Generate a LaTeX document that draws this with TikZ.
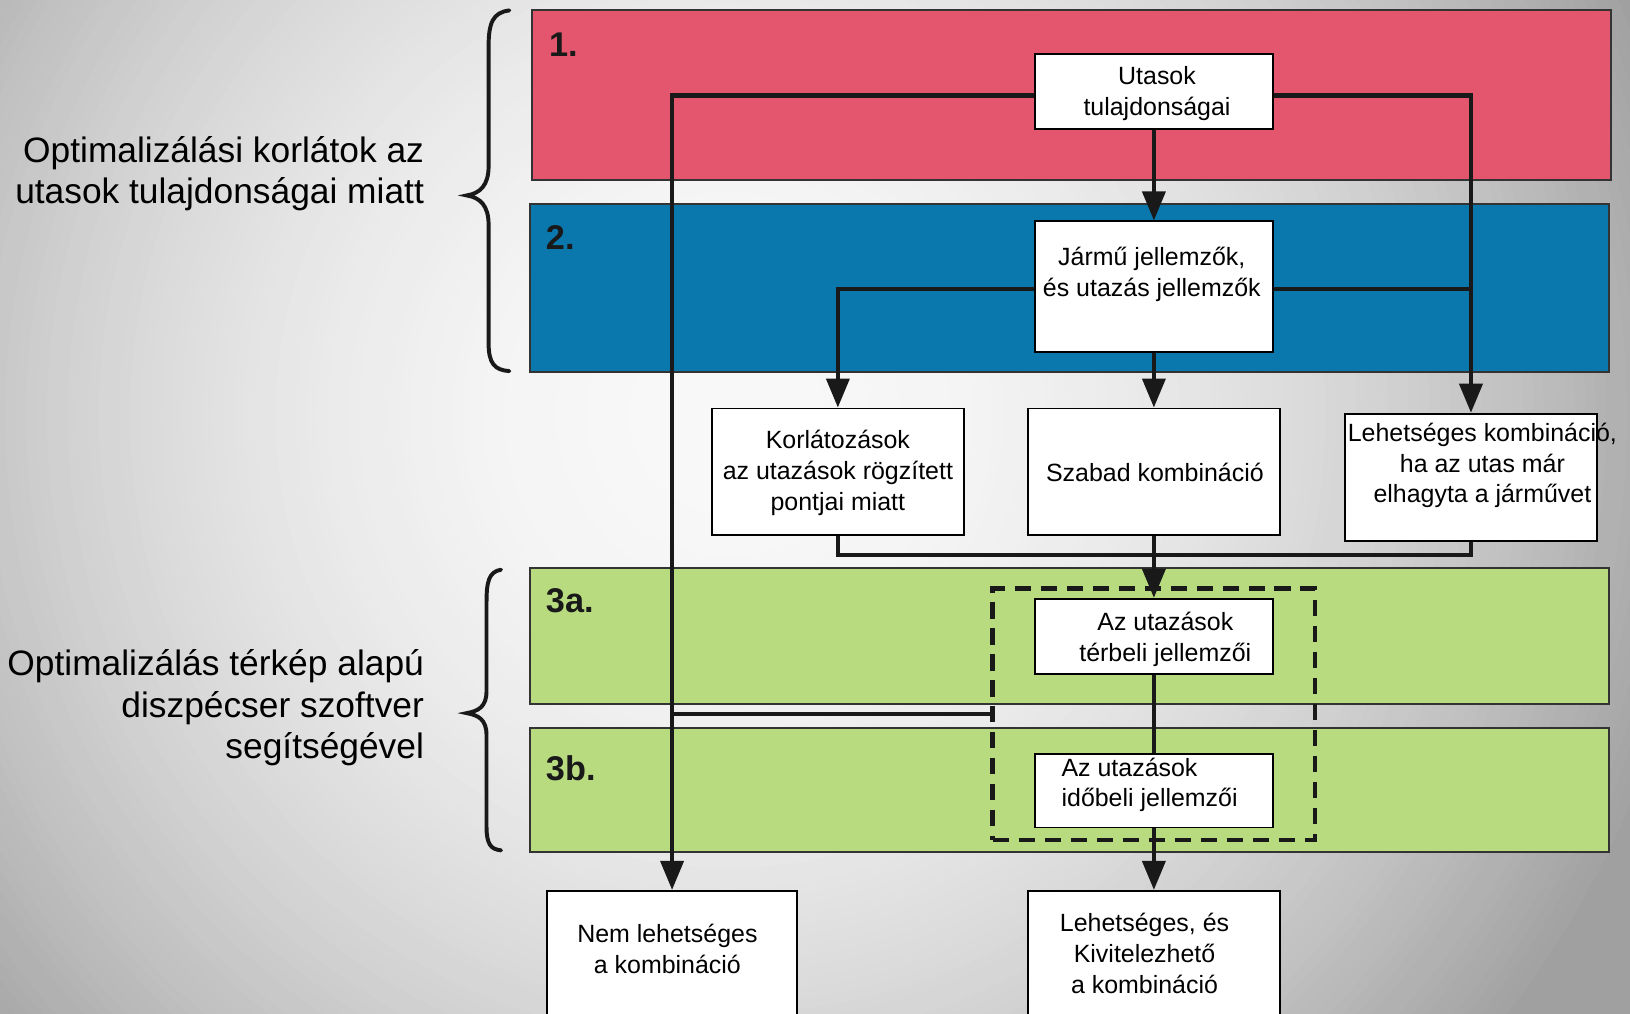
\documentclass[tikz,border=0pt]{standalone}
\usepackage{fontspec}
\setmainfont{Liberation Sans}
\usetikzlibrary{arrows.meta}
\definecolor{panelred}{HTML}{E3566D}
\definecolor{panelblue}{HTML}{0A77AD}
\definecolor{panelgreen}{HTML}{B9DB80}
\definecolor{bgin}{HTML}{F8F8F8}
\definecolor{bgout}{HTML}{A0A0A0}
\begin{document}
\begin{tikzpicture}[x=1pt,y=-1pt,
  panel/.style={draw=black!80, line width=2pt},
  box/.style={draw=black, line width=1.8pt, fill=white, inner sep=0pt},
  boxtext/.style={font=\fontsize{24}{29.5}\selectfont, align=center, inner sep=0pt},
  sidetext/.style={font=\fontsize{34}{40}\selectfont, align=right, anchor=east, inner sep=0pt},
  num/.style={font=\fontsize{33}{33}\selectfont\bfseries, anchor=base west, inner sep=0pt, text=black!90},
  conn/.style={line width=4.2pt, draw=black!90},
  arr/.style={conn, -{Triangle[length=28pt,width=22pt]}},
  group/.style={draw=black!90, line width=4.4pt, dash pattern=on 16pt off 9pt, inner sep=0pt},
  brace/.style={line width=3.8pt, line cap=round, draw=black!90}
]
\useasboundingbox (0,0) rectangle (1568,975);

\begin{scope}
  \clip (0,0) rectangle (1568,975);
  % grey backdrop: concentric rings, light in the middle, darker outwards
  \foreach \r in {1250,1240,...,0} {
    \pgfmathtruncatemacro\p{min(100,100*(\r/950)^2)}
    \fill[bgout!\p!bgin] (700,400) circle (\r+5);
  }

  % braces
  \draw[brace] (490,10) .. controls (474,12) and (470,22) .. (470,45) -- (470,160)
    .. controls (470,178) and (462,186) .. (449,188)
    .. controls (462,190) and (470,198) .. (470,216) -- (470,330)
    .. controls (470,350) and (476,356) .. (490,357);
  \draw[brace] (482,548) .. controls (470,550) and (468,560) .. (468,580) -- (468,665)
    .. controls (468,680) and (460,684) .. (449,686)
    .. controls (460,688) and (468,692) .. (468,707) -- (468,795)
    .. controls (468,812) and (472,817) .. (482,818);

  % side labels
  \node[sidetext] (lab1) at (408,167) {Optimalizálási korlátok az\\utasok tulajdonságai miatt};
  \node[sidetext] (lab2) at (408,681) {Optimalizálás térkép alapú\\diszpécser szoftver\\segítségével};

  % stage panels
  \draw[panel, fill=panelred] (512,10) rectangle (1550,173);
  \draw[panel, fill=panelblue] (510,196) rectangle (1548,358);
  \draw[panel, fill=panelgreen] (510,546) rectangle (1548,677);
  \draw[panel, fill=panelgreen] (510,700) rectangle (1548,820);
  \node[num] (n1) at (528,54) {1.};
  \node[num] (n2) at (525,240) {2.};
  \node[num] (n3a) at (525,589) {3a.};
  \node[num] (n3b) at (525,751) {3b.};

  % boxes
  \node[box, minimum width=229pt, minimum height=72pt] (ut) at (1110,88) {};
  \node[box, minimum width=229pt, minimum height=126pt] (jar) at (1110,276) {};
  \node[box, minimum width=242pt, minimum height=122pt] (kor) at (806,454) {};
  \node[box, minimum width=242pt, minimum height=122pt] (sz) at (1110,454) {};
  \node[box, minimum width=242pt, minimum height=122pt] (leh) at (1415,459) {};
  \node[group, minimum width=310pt, minimum height=242pt] (grp) at (1110,687) {};
  \node[box, minimum width=229pt, minimum height=72pt] (ter) at (1110,612) {};
  \node[box, minimum width=229pt, minimum height=71pt] (ido) at (1110,760.5) {};
  \node[box, minimum width=241pt, minimum height=143pt] (nem) at (646.5,928.5) {};
  \node[box, minimum width=242pt, minimum height=143pt] (kiv) at (1110,928.5) {};

  % box texts
  \node[boxtext] (t-ut) at (1113,90) {Utasok\\tulajdonságai};
  \node[boxtext] (t-jar) at (1108,264) {Jármű jellemzők,\\és utazás jellemzők};
  \node[boxtext] (t-kor) at (806,455) {Korlátozások\\az utazások rögzített\\pontjai miatt};
  \node[boxtext] (t-sz) at (1111,454) {Szabad kombináció};
  \node[boxtext] (t-leh) at (1426,448) {Lehetséges kombináció,\\ha az utas már\\elhagyta a járművet};
  \node[boxtext] (t-ter) at (1121,615) {Az utazások\\térbeli jellemzői};
  \node[boxtext, align=left, anchor=west] (t-ido) at (1021,755) {Az utazások\\időbeli jellemzői};
  \node[boxtext] (t-nem) at (642,913) {Nem lehetséges\\a kombináció};
  \node[boxtext] (t-kiv) at (1101,917) {Lehetséges, és\\Kivitelezhető\\a kombináció};

  % connectors
  \draw[arr] ([yshift=-4pt]ut.west) -| (nem.north);
  \draw[arr] ([yshift=-4pt]ut.east) -| (leh.north);
  \draw[arr] (ut.south) -- (jar.north);
  \draw[arr] ([yshift=-2pt]jar.west) -| (kor.north);
  \draw[conn] ([yshift=-2pt]jar.east) -- ([yshift=-2pt]jar.east -| leh.north);
  \draw[arr] (jar.south) -- (sz.north);
  \draw[conn] (kor.south) -- ++(0,18) -| (leh.south);
  \draw[arr] (sz.south) -- (ter.north);
  \draw[conn] (ter.south) -- (ido.north);
  \draw[arr] (ido.south) -- (kiv.north);
  \draw[conn] (grp.west) -- (grp.west -| nem.north);
\end{scope}
\end{tikzpicture}
\end{document}
